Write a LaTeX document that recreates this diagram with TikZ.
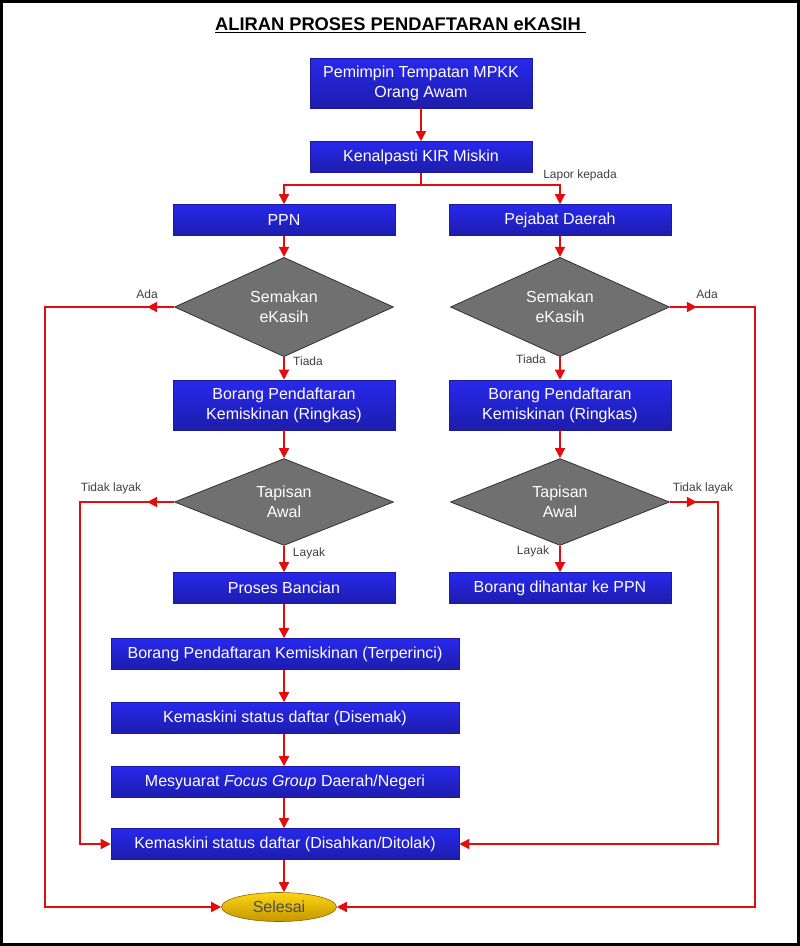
\documentclass[tikz,border=0pt]{standalone}
\usepackage{fontspec}
\setmainfont{Liberation Sans}
\usetikzlibrary{shapes.geometric,arrows.meta}
\definecolor{boxblue}{RGB}{40,40,238}
\definecolor{arrred}{RGB}{228,12,12}
\definecolor{dgray}{RGB}{112,112,112}
\definecolor{goldy}{RGB}{240,196,0}
\definecolor{goldtop}{RGB}{252,214,20}
\definecolor{goldbot}{RGB}{196,150,0}
\begin{document}
\begin{tikzpicture}[x=1pt,y=-1pt,
  proc/.style={rectangle, draw=boxblue!65!black, line width=0.6pt,
    top color=boxblue, middle color=boxblue, bottom color=boxblue!72!black,
    text=white, font=\fontsize{16}{20}\selectfont, align=center, inner sep=0pt,
    minimum width=222pt, minimum height=31pt},
  wide/.style={minimum width=348pt},
  tall/.style={minimum height=50pt},
  dec/.style={diamond, fill=dgray, draw=dgray!45!black, line width=0.8pt,
    minimum width=219pt, minimum height=78pt, inner sep=0pt, text=white,
    font=\fontsize{16}{20}\selectfont, align=center},
  endnode/.style={ellipse, top color=goldtop, middle color=goldy, bottom color=goldbot,
    draw=goldbot!70!black, line width=0.6pt, minimum width=115pt, minimum height=29pt, inner sep=0pt,
    text=black!70, font=\fontsize{16}{20}\selectfont},
  arr/.style={draw=arrred, line width=1.6pt, -{Triangle[length=10pt,width=10pt]}},
  wire/.style={draw=arrred, line width=1.6pt},
  lbl/.style={text=black!75, font=\fontsize{12}{14}\selectfont, inner sep=0pt},
]
\useasboundingbox (0,0) rectangle (800,946);
\fill[white] (0,0) rectangle (800,946);
\draw[line width=3pt] (1.5,1.5) rectangle (798.5,944.5);

\node[font=\bfseries\fontsize{18.3}{22}\selectfont, inner sep=0pt] (title) at (400.5,25) {\underline{ALIRAN PROSES PENDAFTARAN eKASIH\ }};

\node[proc, tall] (b1) at (421,83) {Pemimpin Tempatan MPKK\\Orang Awam};
\node[proc] (b2) at (421,157) {Kenalpasti KIR Miskin};
\node[proc] (ppn) at (284,220) {PPN};
\node[proc] (pd) at (560,220) {Pejabat Daerah};
\node[dec] (s1) at (284,307) {Semakan\\eKasih};
\node[dec] (s2) at (560,307) {Semakan\\eKasih};
\node[proc, tall] (r1) at (284,405) {Borang Pendaftaran\\Kemiskinan (Ringkas)};
\node[proc, tall] (r2) at (560,405) {Borang Pendaftaran\\Kemiskinan (Ringkas)};
\node[dec] (t1) at (284,502) {Tapisan\\Awal};
\node[dec] (t2) at (560,502) {Tapisan\\Awal};
\node[proc] (pb) at (284,588) {Proses Bancian};
\node[proc] (bd) at (560,588) {Borang dihantar ke PPN};
\node[proc, wide] (bt) at (285,654) {Borang Pendaftaran Kemiskinan (Terperinci)};
\node[proc, wide] (kd) at (285,718) {Kemaskini status daftar (Disemak)};
\node[proc, wide] (mf) at (285,782) {Mesyuarat \textit{Focus Group} Daerah/Negeri};
\node[proc, wide] (k4) at (285,844) {Kemaskini status daftar (Disahkan/Ditolak)};
\node[endnode] (sel) at (279,907) {Selesai};

\coordinate (j) at (421,185);
\coordinate (ca) at (45,307);
\coordinate (cb) at (755,307);
\coordinate (cc) at (80,502);
\coordinate (cd) at (718,502);

% main flow
\draw[arr] (b1) -- (b2);
\draw[wire] (b2.south) -- (j);
\draw[arr] (j) -| (ppn.north);
\draw[arr] (j) -| (pd.north);
\draw[arr] (ppn) -- (s1);
\draw[arr] (pd) -- (s2);
\draw[arr] (s1) -- (r1);
\draw[arr] (s2) -- (r2);
\draw[arr] (r1) -- (t1);
\draw[arr] (r2) -- (t2);
\draw[arr] (t1) -- (pb);
\draw[arr] (t2) -- (bd);
\draw[arr] (pb.south) -- (pb.south |- bt.north);
\draw[arr] (bt.south -| pb.south) -- (pb.south |- kd.north);
\draw[arr] (kd.south -| pb.south) -- (pb.south |- mf.north);
\draw[arr] (mf.south -| pb.south) -- (pb.south |- k4.north);
\draw[arr] (k4.south -| pb.south) -- (pb.south |- sel.north);

% side loops
\draw[arr] (s1.west) -- ++(-27,0);
\draw[arr] (s1.west) -- (ca) |- (sel.west);
\draw[arr] (s2.east) -- ++(27,0);
\draw[arr] (s2.east) -- (cb) |- (sel.east);
\draw[arr] (t1.west) -- ++(-27,0);
\draw[arr] (t1.west) -- (cc) |- (k4.west);
\draw[arr] (t2.east) -- ++(27,0);
\draw[arr] (t2.east) -- (cd) |- (k4.east);

% labels
\node[lbl] (l1) at (580,175) {Lapor kepada};
\node[lbl] (l2) at (147,294) {Ada};
\node[lbl] (l3) at (707,294) {Ada};
\node[lbl] (l4) at (308,361) {Tiada};
\node[lbl] (l5) at (531,359) {Tiada};
\node[lbl] (l6) at (111,488) {Tidak layak};
\node[lbl] (l7) at (703,488) {Tidak layak};
\node[lbl] (l8) at (309,553) {Layak};
\node[lbl] (l9) at (533,551) {Layak};
\end{tikzpicture}
\end{document}
